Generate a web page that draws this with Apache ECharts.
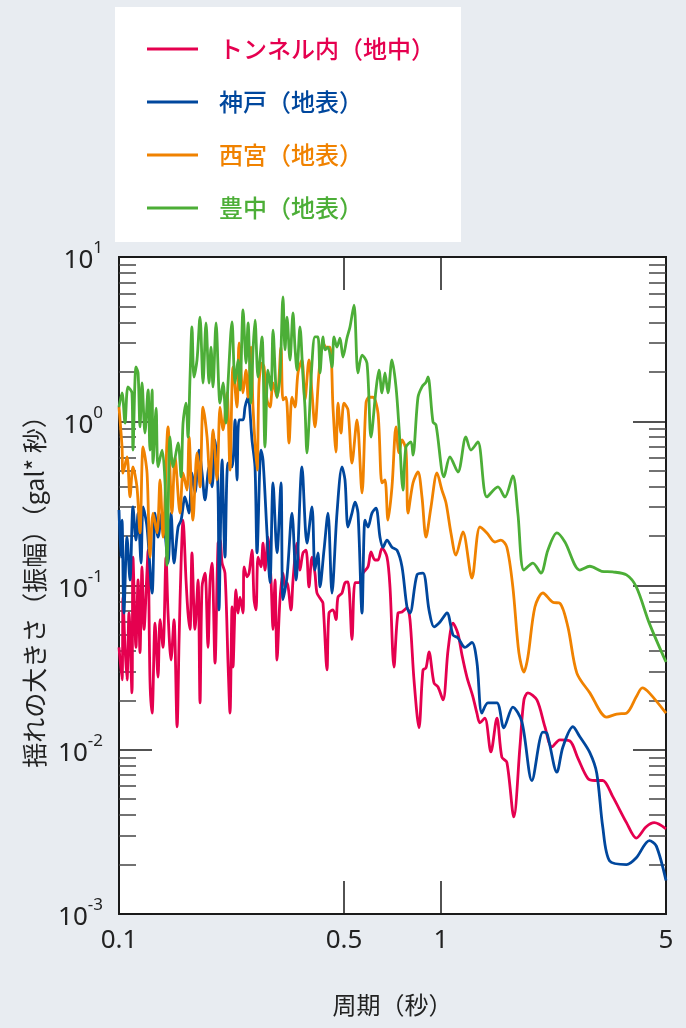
<!DOCTYPE html>
<html><head><meta charset="utf-8">
<script src="https://cdn.jsdelivr.net/npm/echarts@6/dist/echarts.min.js"></script>
<style>html,body{margin:0;padding:0;background:#e8ecf1;}#c{width:686px;height:1028px;}</style>
</head><body><div id="c"></div>
<script>
// ---- data (period [s], amplitude [gal*s]) ----
const seriesNames = ['トンネル内（地中）', '神戸（地表）', '西宮（地表）', '豊中（地表）'];
const xTickLabels = [0.1, 0.5, 1, 5];
const xInnerTicks = [0.5, 1];
const yMajorTicks = [0.001, 0.01, 0.1, 1, 10];
const yMinorTicks = [0.002,0.003,0.004,0.005,0.006,0.007,0.008,0.009,
  0.02,0.03,0.04,0.05,0.06,0.07,0.08,0.09,
  0.2,0.3,0.4,0.5,0.6,0.7,0.8,0.9,
  2,3,4,5,6,7,8,9];

const tunnel = [[0.1,0.042],[0.1022,0.0266],[0.1029,0.085],[0.1044,0.042],[0.1059,0.0266],[0.1074,0.068],[0.1097,0.0222],[0.1105,0.149],[0.1129,0.042],[0.1146,0.108],[0.1162,0.039],[0.1179,0.13],[0.1196,0.054],[0.1222,0.124],[0.1231,0.164],[0.1248,0.0266],[0.1267,0.0167],[0.1294,0.059],[0.1322,0.0277],[0.1341,0.062],[0.137,0.042],[0.14,0.149],[0.142,0.068],[0.1451,0.0352],[0.1482,0.062],[0.1515,0.0138],[0.1537,0.047],[0.1559,0.137],[0.1581,0.25],[0.1615,0.108],[0.1638,0.068],[0.1662,0.054],[0.1685,0.158],[0.1722,0.054],[0.176,0.108],[0.1785,0.0193],[0.1811,0.098],[0.185,0.119],[0.189,0.042],[0.1918,0.108],[0.1945,0.137],[0.1987,0.0337],[0.2031,0.181],[0.206,0.189],[0.209,0.137],[0.2134,0.119],[0.2181,0.0337],[0.2212,0.0167],[0.2244,0.074],[0.226,0.0319],[0.2309,0.094],[0.2343,0.068],[0.2376,0.085],[0.2428,0.068],[0.2446,0.13],[0.2499,0.113],[0.2535,0.119],[0.2589,0.164],[0.2627,0.082],[0.2664,0.071],[0.2703,0.149],[0.2761,0.13],[0.2801,0.181],[0.2841,0.124],[0.2903,0.197],[0.2966,0.108],[0.3009,0.054],[0.3052,0.108],[0.3096,0.0352],[0.3162,0.082],[0.3231,0.119],[0.3278,0.098],[0.3325,0.104],[0.3422,0.071],[0.3471,0.108],[0.3571,0.181],[0.3648,0.124],[0.3728,0.158],[0.3809,0.164],[0.3891,0.098],[0.3976,0.149],[0.4061,0.119],[0.412,0.09],[0.424,0.082],[0.4301,0.078],[0.4426,0.0306],[0.449,0.068],[0.462,0.071],[0.472,0.062],[0.4788,0.085],[0.4927,0.09],[0.5034,0.104],[0.5144,0.105],[0.5292,0.047],[0.5407,0.104],[0.5564,0.104],[0.5727,0.119],[0.5934,0.13],[0.6063,0.16],[0.6238,0.143],[0.6374,0.143],[0.6559,0.169],[0.6797,0.149],[0.6945,0.098],[0.7147,0.0319],[0.7354,0.068],[0.7568,0.069],[0.7843,0.073],[0.8013,0.062],[0.8246,0.0266],[0.8546,0.0136],[0.8794,0.0306],[0.8985,0.0315],[0.918,0.0394],[0.9515,0.0255],[0.9792,0.0241],[1.015,0.0201],[1.052,0.0405],[1.09,0.059],[1.129,0.051],[1.162,0.0378],[1.204,0.0277],[1.257,0.021],[1.293,0.0167],[1.321,0.0146],[1.369,0.0156],[1.429,0.0097],[1.492,0.0156],[1.546,0.009],[1.602,0.0084],[1.684,0.0039],[1.759,0.0104],[1.81,0.0201],[1.862,0.0222],[1.986,0.0201],[2.103,0.0138],[2.211,0.0104],[2.341,0.0115],[2.515,0.0113],[2.662,0.0089],[2.858,0.0067],[3.004,0.0065],[3.18,0.0065],[3.414,0.0052],[3.769,0.0036],[4.043,0.0029],[4.341,0.0034],[4.597,0.0036],[5,0.0033]];

const kobe = [[0.1,0.288],[0.1014,0.149],[0.1022,0.25],[0.1036,0.068],[0.1059,0.197],[0.1082,0.108],[0.1105,0.301],[0.1129,0.189],[0.1146,0.276],[0.1171,0.137],[0.1188,0.301],[0.1222,0.227],[0.1267,0.09],[0.1294,0.276],[0.1322,0.197],[0.1361,0.276],[0.139,0.209],[0.142,0.137],[0.1451,0.276],[0.1482,0.137],[0.1526,0.227],[0.1559,0.25],[0.1603,0.346],[0.165,0.276],[0.1685,0.484],[0.1722,0.366],[0.1772,0.668],[0.1811,0.484],[0.185,0.332],[0.1904,0.527],[0.1945,0.398],[0.1987,0.769],[0.2031,0.366],[0.2045,0.071],[0.209,0.581],[0.2134,0.149],[0.2181,0.557],[0.2244,0.527],[0.2293,1.02],[0.2326,0.439],[0.236,1.02],[0.2428,1.02],[0.2463,1.22],[0.2517,1.4],[0.2589,0.769],[0.2645,0.527],[0.2684,0.158],[0.2761,0.668],[0.2801,0.581],[0.2882,0.209],[0.2944,0.104],[0.3009,0.421],[0.3096,0.158],[0.3185,0.421],[0.3231,0.082],[0.3325,0.113],[0.3446,0.276],[0.3546,0.108],[0.3701,0.527],[0.3836,0.181],[0.3976,0.301],[0.4061,0.124],[0.4149,0.158],[0.421,0.098],[0.4332,0.164],[0.4458,0.276],[0.4587,0.09],[0.4754,0.276],[0.4927,0.527],[0.5034,0.439],[0.5144,0.227],[0.5292,0.276],[0.5407,0.322],[0.5525,0.276],[0.5686,0.068],[0.5808,0.25],[0.5934,0.227],[0.6106,0.276],[0.6283,0.296],[0.6466,0.197],[0.6606,0.171],[0.6797,0.189],[0.7045,0.171],[0.7302,0.164],[0.7568,0.13],[0.7843,0.074],[0.8013,0.068],[0.8425,0.116],[0.8794,0.119],[0.918,0.071],[0.9515,0.056],[0.9931,0.06],[1.044,0.068],[1.09,0.05],[1.129,0.048],[1.187,0.042],[1.248,0.045],[1.293,0.0342],[1.34,0.0167],[1.399,0.0193],[1.492,0.0193],[1.568,0.0136],[1.672,0.0182],[1.784,0.0148],[1.916,0.0065],[2.073,0.0128],[2.133,0.0126],[2.291,0.0073],[2.392,0.0104],[2.569,0.0138],[2.7,0.012],[2.9,0.0096],[3.047,0.0072],[3.18,0.0034],[3.342,0.0021],[3.769,0.002],[4.043,0.0022],[4.436,0.0028],[4.663,0.0026],[5,0.0016]];

const nishinomiya = [[0.1,1.22],[0.1022,0.697],[0.1029,0.484],[0.1059,0.606],[0.1082,0.346],[0.1105,0.527],[0.1137,0.398],[0.1162,0.209],[0.1188,0.697],[0.1222,0.484],[0.1248,0.149],[0.1276,0.276],[0.1313,0.209],[0.1341,0.439],[0.137,0.197],[0.142,0.923],[0.1461,0.276],[0.1493,0.606],[0.1547,0.276],[0.1581,0.484],[0.1626,0.381],[0.165,0.802],[0.1697,0.25],[0.1747,0.641],[0.1785,0.398],[0.1824,1.22],[0.1877,0.802],[0.1918,0.421],[0.1959,0.885],[0.2016,0.439],[0.206,1.22],[0.2105,0.885],[0.2165,1.49],[0.2212,0.505],[0.226,2.14],[0.2326,1.22],[0.236,3.0],[0.2428,1.49],[0.2481,2.05],[0.2517,1.4],[0.2571,2.83],[0.2608,1.22],[0.2684,0.505],[0.2722,1.71],[0.2781,2.26],[0.2821,2.14],[0.2882,1.35],[0.2944,1.22],[0.3009,1.71],[0.3096,1.4],[0.3185,2.83],[0.3231,1.35],[0.3301,1.4],[0.3373,0.737],[0.3446,1.4],[0.352,1.22],[0.3597,1.97],[0.3701,2.36],[0.3781,1.35],[0.3891,2.36],[0.3976,1.49],[0.4061,0.923],[0.4179,1.97],[0.4301,3.0],[0.4394,2.83],[0.4522,2.83],[0.462,1.22],[0.472,0.65],[0.4788,1.29],[0.4892,0.848],[0.4998,1.29],[0.5144,1.17],[0.5292,0.557],[0.5485,1.02],[0.5686,0.366],[0.585,1.29],[0.5977,1.4],[0.615,1.4],[0.6374,1.12],[0.6559,0.421],[0.67,0.439],[0.6846,0.25],[0.7045,0.398],[0.725,0.923],[0.7407,0.641],[0.7568,0.769],[0.7787,0.668],[0.79,0.276],[0.8187,0.421],[0.8485,0.491],[0.8731,0.346],[0.8985,0.197],[0.9313,0.301],[0.9722,0.484],[1.007,0.381],[1.037,0.318],[1.074,0.209],[1.113,0.153],[1.17,0.212],[1.248,0.111],[1.321,0.227],[1.389,0.209],[1.471,0.184],[1.535,0.189],[1.602,0.171],[1.672,0.098],[1.746,0.039],[1.81,0.0297],[1.862,0.0367],[1.958,0.074],[2.073,0.09],[2.226,0.079],[2.341,0.078],[2.479,0.056],[2.643,0.0293],[2.9,0.0222],[3.271,0.0158],[3.514,0.0165],[3.769,0.0167],[4.043,0.021],[4.22,0.0238],[4.436,0.0222],[5,0.0167]];

const toyonaka = [[0.1,1.22],[0.1022,1.49],[0.1044,0.975],[0.1066,1.62],[0.1097,1.49],[0.1105,0.668],[0.1129,2.14],[0.1146,1.97],[0.1162,0.923],[0.1179,1.71],[0.1204,0.848],[0.1231,1.55],[0.1248,0.668],[0.1267,1.55],[0.1276,0.557],[0.1304,1.2],[0.1322,0.527],[0.1361,0.668],[0.139,0.421],[0.141,0.133],[0.144,0.802],[0.1472,0.527],[0.1526,0.737],[0.1559,0.458],[0.1581,0.975],[0.1615,1.29],[0.1638,0.802],[0.1662,1.86],[0.1685,3.75],[0.171,1.86],[0.1747,2.36],[0.1785,4.31],[0.1824,1.71],[0.1863,3.97],[0.1904,1.71],[0.1931,2.83],[0.1959,1.62],[0.2002,3.97],[0.206,1.29],[0.2105,1.71],[0.215,0.975],[0.2181,1.71],[0.2244,4.02],[0.2293,1.71],[0.2343,2.36],[0.2376,1.55],[0.2428,4.76],[0.2481,2.26],[0.2517,3.97],[0.2571,1.29],[0.2608,2.72],[0.2645,4.13],[0.2703,1.86],[0.2781,3.26],[0.2841,0.697],[0.2903,2.05],[0.2966,1.55],[0.3009,3.59],[0.3096,1.4],[0.3162,1.86],[0.3231,5.71],[0.3278,2.72],[0.3325,4.31],[0.3397,2.36],[0.3471,4.56],[0.352,2.83],[0.3571,2.05],[0.3648,3.75],[0.3728,1.86],[0.3781,1.22],[0.3836,0.641],[0.3891,0.975],[0.3976,2.26],[0.4061,3.26],[0.4149,3.26],[0.421,1.97],[0.4301,3.26],[0.4363,2.72],[0.4458,2.83],[0.4587,2.14],[0.4653,3.26],[0.4754,2.83],[0.4857,3.21],[0.4963,2.46],[0.5107,3.21],[0.5217,3.75],[0.5369,5.1],[0.5525,1.97],[0.5686,2.53],[0.5892,2.26],[0.6063,0.802],[0.6283,1.55],[0.6419,2.05],[0.6559,1.49],[0.67,1.97],[0.6846,1.49],[0.7045,2.36],[0.725,1.62],[0.7407,0.923],[0.7622,0.381],[0.7787,0.697],[0.8071,0.748],[0.8187,0.623],[0.8485,1.4],[0.8731,1.62],[0.8985,1.73],[0.9115,1.86],[0.9447,0.99],[0.9652,0.949],[1.022,0.458],[1.066,0.606],[1.129,0.491],[1.195,0.802],[1.239,0.668],[1.302,0.748],[1.389,0.346],[1.503,0.398],[1.58,0.346],[1.672,0.464],[1.733,0.276],[1.81,0.124],[1.93,0.137],[2.044,0.119],[2.148,0.164],[2.291,0.209],[2.427,0.184],[2.7,0.124],[2.9,0.131],[3.157,0.122],[3.414,0.121],[3.769,0.116],[4.043,0.098],[4.436,0.059],[5,0.0342]];

const seriesData = [tunnel, kobe, nishinomiya, toyonaka];
const seriesColors = ['#e5004f', '#00479d', '#f08200', '#4cae37'];

// ---- chart ----
const FONT = '"Noto Sans", "Noto Sans CJK JP", sans-serif';
const CJK = '"Noto Sans CJK JP", sans-serif';
const chart = echarts.init(document.getElementById('c'), null, {renderer: 'canvas'});
const AX = '#1a1a1a';
const TXT = '#222';

function xAxisCfg(pos, labels) {
  return {
    type: 'log', logBase: 10, min: 0.1, max: 5, position: pos,
    axisLine: {show: true, onZero: false, lineStyle: {color: AX, width: 2}},
    axisTick: {show: true, inside: true, length: 33, customValues: xInnerTicks, lineStyle: {color: AX, width: 1.5}},
    minorTick: {show: false},
    splitLine: {show: false},
    axisLabel: labels ? {show: true, customValues: xTickLabels, fontSize: 26, color: TXT, fontFamily: FONT, margin: 14,
      formatter: v => String(Math.round(v * 10) / 10)} : {show: false},
    name: labels ? '周期（秒）' : '',
    nameLocation: 'middle', nameGap: 79,
    nameTextStyle: {fontSize: 24, color: TXT, fontFamily: CJK}
  };
}
function yAxisCfg(pos, ticks, len, labels) {
  return {
    type: 'log', logBase: 10, min: 0.001, max: 10, position: pos,
    axisLine: {show: true, onZero: false, lineStyle: {color: AX, width: 2}},
    axisTick: {show: true, inside: true, length: len, customValues: ticks, lineStyle: {color: len > 20 ? AX : '#444', width: 1.5}},
    minorTick: {show: false},
    splitLine: {show: false},
    axisLabel: labels ? {
      show: true, customValues: yMajorTicks, margin: 16, fontFamily: FONT, color: TXT,
      formatter: v => '{b|10}{s|' + Math.round(Math.log10(v)) + '}',
      rich: {
        b: {fontSize: 26, lineHeight: 34, verticalAlign: 'bottom', fontFamily: FONT, color: TXT},
        s: {fontSize: 17, lineHeight: 10, verticalAlign: 'top', fontFamily: FONT, color: TXT}
      }
    } : {show: false},
    name: labels ? '揺れの大きさ（振幅）（gal* 秒）' : '',
    nameLocation: 'middle', nameGap: 70, nameRotate: 90,
    nameTextStyle: {fontSize: 25, color: TXT, fontFamily: CJK}
  };
}

const option = {
  animation: false,
  backgroundColor: '#e8ecf1',
  graphic: [{type: 'rect', left: 115, top: 7, shape: {width: 346, height: 235}, style: {fill: '#ffffff'}, z: -1}],
  legend: {
    orient: 'vertical', left: 142, top: 29, icon: 'rect', itemWidth: 51, itemHeight: 3, itemGap: 23,
    data: seriesNames.map((n, i) => ({name: n, textStyle: {color: seriesColors[i]}})),
    textStyle: {fontSize: 24, fontWeight: 500, lineHeight: 30, fontFamily: CJK, padding: [0, 0, 0, 16]}
  },
  grid: {left: 119, right: 20, top: 257, bottom: 114, containLabel: false, show: true, backgroundColor: '#ffffff', borderWidth: 0},
  xAxis: [xAxisCfg('bottom', true), xAxisCfg('top', false)],
  yAxis: [yAxisCfg('left', yMajorTicks, 33, true), yAxisCfg('left', yMinorTicks, 17, false),
          yAxisCfg('right', yMajorTicks, 33, false), yAxisCfg('right', yMinorTicks, 17, false)],
  series: seriesNames.map((n, i) => ({
    name: n, type: 'line', data: seriesData[i], xAxisIndex: 0, yAxisIndex: 0,
    showSymbol: false, smooth: 0.3, clip: true,
    lineStyle: {color: seriesColors[i], width: 2.8}, itemStyle: {color: seriesColors[i]}
  }))
};
chart.setOption(option);
</script></body></html>
